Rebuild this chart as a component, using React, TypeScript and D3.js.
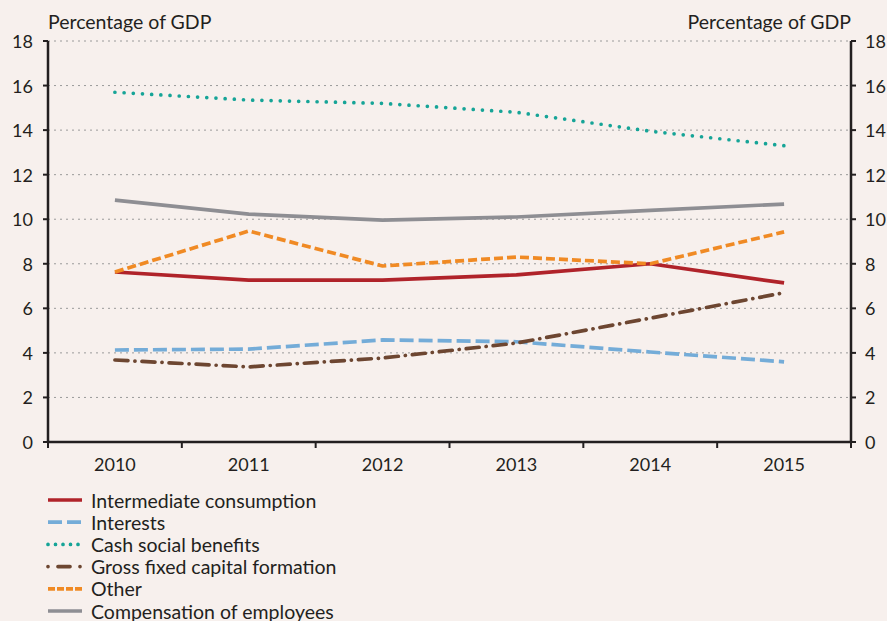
import React from "react";
import * as d3 from "d3";

const years = ["2010", "2011", "2012", "2013", "2014", "2015"];
const intermediate = [7.63, 7.27, 7.27, 7.5, 8.0, 7.14];
const interests = [4.13, 4.17, 4.58, 4.5, 4.04, 3.6];
const cashBenefits = [15.7, 15.35, 15.2, 14.8, 13.95, 13.3];
const gfcf = [3.68, 3.37, 3.77, 4.44, 5.56, 6.7];
const other = [7.63, 9.47, 7.9, 8.3, 8.0, 9.43];
const compensation = [10.86, 10.23, 9.96, 10.1, 10.4, 10.68];
const yTicks = [0, 2, 4, 6, 8, 10, 12, 14, 16, 18];

const series = [
  { name: "Intermediate consumption", values: intermediate, color: "#b0232a", dash: "", cap: "butt" },
  { name: "Interests", values: interests, color: "#74acd8", dash: "14 5", cap: "butt" },
  { name: "Cash social benefits", values: cashBenefits, color: "#16a497", dash: "0 9.2", cap: "round" },
  { name: "Gross fixed capital formation", values: gfcf, color: "#6d4631", dash: "13 7 0.1 7", cap: "round" },
  { name: "Other", values: other, color: "#f08a24", dash: "9 4", cap: "butt" },
  { name: "Compensation of employees", values: compensation, color: "#8e8e93", dash: "", cap: "butt" },
];

const W = 887, H = 621;
const left = 48, right = 851, top = 41, bottom = 442;
const font = "Lato, 'Open Sans', sans-serif";
const fs = 19.5;
const tfs = 18;

export default function App() {
  const x = d3.scaleBand().domain(years).range([left, right]);
  const y = d3.scaleLinear().domain([0, 18]).range([bottom, top]);
  const line = d3.line<number>()
    .x((_, i) => (x(years[i]) as number) + x.bandwidth() / 2)
    .y((d) => y(d));
  const bounds = years.map((yr) => x(yr) as number).concat([right]);

  return (
    <svg width={W} height={H} style={{ position: "absolute", left: 0, top: 0, background: "#f7f0ed" }}>
      <rect x={0} y={0} width={W} height={H} fill="#f7f0ed" />
      {yTicks.filter((t) => t > 0).map((t) => (
        <line key={"g" + t} x1={left} x2={right} y1={y(t)} y2={y(t)} stroke="#9a9a9a" strokeWidth={1} strokeDasharray="2 4" />
      ))}
      {series.map((s) => (
        <path key={s.name} d={line(s.values) || ""} fill="none" stroke={s.color} strokeWidth={3.7}
          strokeDasharray={s.dash || undefined} strokeLinecap={s.cap as any} strokeLinejoin="round" />
      ))}
      <line x1={left} x2={left} y1={top} y2={bottom} stroke="#231f20" strokeWidth={2.5} />
      <line x1={right} x2={right} y1={top} y2={bottom} stroke="#231f20" strokeWidth={2.5} />
      <line x1={left - 1} x2={right + 1} y1={bottom} y2={bottom} stroke="#231f20" strokeWidth={2.5} />
      {yTicks.map((t) => (
        <g key={"t" + t}>
          <line x1={left - 5} x2={left} y1={y(t)} y2={y(t)} stroke="#231f20" strokeWidth={2} />
          <line x1={right} x2={right + 5} y1={y(t)} y2={y(t)} stroke="#231f20" strokeWidth={2} />
          <text x={33} y={y(t)} textAnchor="end" dominantBaseline="central" fontFamily={font} fontSize={tfs} fill="#231f20">{t}</text>
          <text x={865} y={y(t)} textAnchor="start" dominantBaseline="central" fontFamily={font} fontSize={tfs} fill="#231f20">{t}</text>
        </g>
      ))}
      {bounds.map((b, i) => (
        <line key={"xb" + i} x1={b} x2={b} y1={bottom} y2={bottom + 6} stroke="#231f20" strokeWidth={2} />
      ))}
      {years.map((yr) => (
        <text key={yr} x={(x(yr) as number) + x.bandwidth() / 2} y={471} textAnchor="middle" fontFamily={font} fontSize={tfs} fill="#231f20">{yr}</text>
      ))}
      <text x={48} y={29} fontFamily={font} fontSize={fs} fill="#231f20">Percentage of GDP</text>
      <text x={851} y={29} textAnchor="end" fontFamily={font} fontSize={fs} fill="#231f20">Percentage of GDP</text>
      {series.map((s, i) => {
        const ly = 500 + i * 22.2;
        return (
          <g key={"l" + s.name}>
            <line x1={48} x2={82} y1={ly} y2={ly} stroke={s.color} strokeWidth={3.7}
              strokeDasharray={s.dash ? (s.name === "Cash social benefits" ? "0 7.5" : s.name === "Gross fixed capital formation" ? "0 10 12 10" : s.name === "Other" ? "7 2" : s.dash) : undefined}
              strokeLinecap={s.cap as any} />
            <text x={91} y={ly} dominantBaseline="central" fontFamily={font} fontSize={fs} fill="#231f20">{s.name}</text>
          </g>
        );
      })}
    </svg>
  );
}
